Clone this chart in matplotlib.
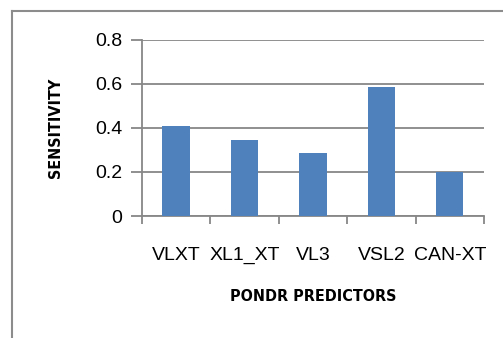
import matplotlib
matplotlib.use("Agg")
import matplotlib.pyplot as plt
from matplotlib.lines import Line2D

predictors = ["VLXT", "XL1_XT", "VL3", "VSL2", "CAN-XT"]
sensitivity = [0.407, 0.343, 0.286, 0.584, 0.200]
yticks = [0, 0.2, 0.4, 0.6, 0.8]
ytick_labels = ["0", "0.2", "0.4", "0.6", "0.8"]

grey = "#878787"

fig = plt.figure(figsize=(5.03, 3.38), dpi=100)
ax = fig.add_axes([0.2817, 0.3609, 0.6805, 0.5216])
x = range(len(predictors))
ax.bar(x, sensitivity, width=0.4, color="#4F81BD", zorder=3)
ax.set_xlim(-0.5, len(predictors) - 0.5)
ax.set_ylim(0, 0.8)
ax.set_yticks(yticks)
ax.set_yticklabels(ytick_labels, fontsize=14, family="Liberation Sans")

# category ticks sit between the bars, names sit in the middle
ax.set_xticks([i - 0.5 for i in range(len(predictors) + 1)])
ax.set_xticklabels([])
ax.set_xticks(list(x), minor=True)
ax.set_xticklabels(predictors, minor=True, fontsize=14, family="Liberation Sans")
ax.tick_params(axis="x", which="minor", length=0, pad=22.5)
ax.tick_params(axis="x", which="major", length=6, width=1.3, color=grey)
ax.tick_params(axis="y", length=8, width=1.3, color=grey, pad=6)

ax.spines["top"].set_visible(False)
ax.spines["right"].set_visible(False)
ax.spines["left"].set_color(grey)
ax.spines["bottom"].set_color(grey)
ax.spines["left"].set_linewidth(1.3)
ax.spines["bottom"].set_linewidth(1.3)

# horizontal gridlines, drawn last
ax.grid(True, axis="y", color=grey, linewidth=1.3)
ax.set_axisbelow(True)

fig.text(0.6223, 0.124, "PONDR PREDICTORS", ha="center", va="center",
         family="DejaVu Sans", fontstretch="condensed", fontweight="bold", fontsize=11.5)
fig.text(0.111, 0.623, "SENSITIVITY", ha="center", va="center", rotation=90,
         family="DejaVu Sans", fontstretch="condensed", fontweight="bold", fontsize=11.5)

# chart-area frame: left and top edges only
frame_x = 12 / 503
frame_y = 1 - 11 / 338
fig.add_artist(Line2D([frame_x, frame_x], [0, frame_y], color="#8c8c8c", linewidth=1.5))
fig.add_artist(Line2D([frame_x, 1], [frame_y, frame_y], color="#8c8c8c", linewidth=1.5))

fig.savefig("out.png", dpi=100)
